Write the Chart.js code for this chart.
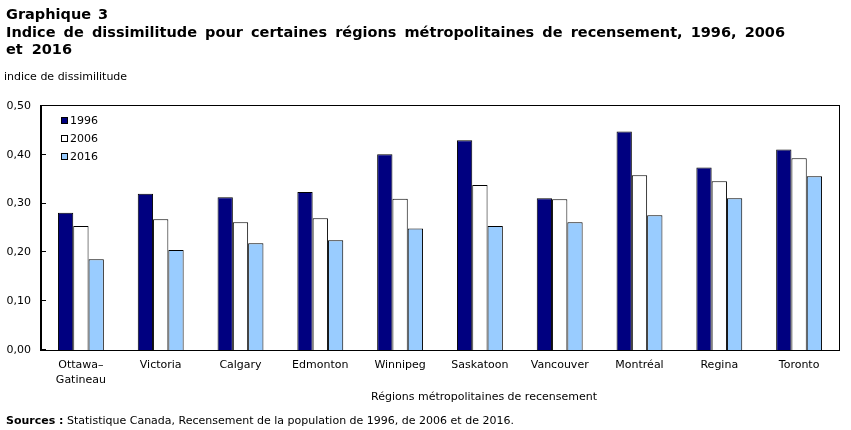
<!DOCTYPE html>
<html>
<head>
<meta charset="utf-8">
<script src="https://cdn.jsdelivr.net/npm/chart.js@4/dist/chart.umd.min.js"></script>
<style>
  html, body { margin: 0; padding: 0; background: #fff; }
  #wrap { width: 851px; height: 430px; position: relative; }
</style>
</head>
<body>
<div id="wrap"><canvas id="myChart" width="851" height="430"></canvas></div>
<script>
const regions = [['Ottawa–', 'Gatineau'], 'Victoria', 'Calgary', 'Edmonton', 'Winnipeg',
                 'Saskatoon', 'Vancouver', 'Montréal', 'Regina', 'Toronto'];
const years = ['1996', '2006', '2016'];
const val1996 = [0.281, 0.320, 0.313, 0.324, 0.401, 0.430, 0.311, 0.448, 0.374, 0.411];
const val2006 = [0.254, 0.268, 0.262, 0.270, 0.310, 0.338, 0.309, 0.358, 0.346, 0.393];
const val2016 = [0.186, 0.205, 0.219, 0.225, 0.249, 0.254, 0.262, 0.276, 0.311, 0.356];
const yTicks = [0, 0.1, 0.2, 0.3, 0.4, 0.5];

const FONT = '"DejaVu Sans", Verdana, sans-serif';
const colors = ['#000080', '#ffffff', '#99ccff'];

// spread words so a title line ends at a given x
function fitLine(c, text, x, y, right) {
    const hasWS = 'wordSpacing' in c;
    if (hasWS) {
        c.wordSpacing = '0px';
        const w = c.measureText(text).width;
        const spaces = text.split(' ').length - 1;
        c.wordSpacing = Math.max(0, (right - x - w) / spaces) + 'px';
    }
    c.fillText(text, x, y);
    if (hasWS) c.wordSpacing = '0px';
}

// titles, legend, frame and footer text
const decor = {
    id: 'decor',
    afterDraw(chart) {
        const c = chart.ctx;
        const a = chart.chartArea;
        const y = chart.scales.y;
        c.save();
        // frame
        c.strokeStyle = '#000';
        c.lineWidth = 1;
        c.strokeRect(Math.round(a.left) - 0.5, Math.round(a.top) - 0.5,
                     Math.round(a.right - a.left) + 1, Math.round(a.bottom - a.top) + 1);
        // inward tick marks
        c.beginPath();
        yTicks.forEach(t => {
            const py = Math.round(y.getPixelForValue(t)) - 0.5;
            c.moveTo(a.left, py);
            c.lineTo(a.left + 5, py);
        });
        c.stroke();

        c.fillStyle = '#000';
        c.textBaseline = 'alphabetic';
        c.textAlign = 'left';
        c.font = 'bold 14.5px ' + FONT;
        fitLine(c, 'Graphique 3', 6, 19, 108);
        fitLine(c, 'Indice de dissimilitude pour certaines régions métropolitaines de recensement, 1996, 2006', 6, 37, 785);
        fitLine(c, 'et 2016', 6, 54, 72);

        c.font = '11px ' + FONT;
        c.fillText('indice de dissimilitude', 4, 80);

        // legend
        chart.data.datasets.forEach((ds, i) => {
            const ly = 120 + i * 18;
            c.fillStyle = ds.backgroundColor;
            c.fillRect(61, ly - 3, 7, 7);
            c.strokeRect(61.5, ly - 2.5, 6, 6);
            c.fillStyle = '#000';
            c.textBaseline = 'middle';
            c.fillText(ds.label, 70, ly + 1);
        });

        c.textBaseline = 'alphabetic';
        c.textAlign = 'center';
        c.fillText('Régions métropolitaines de recensement', 484, 400);

        c.textAlign = 'left';
        c.font = 'bold 11px ' + FONT;
        const lab = 'Sources :';
        c.fillText(lab, 6, 424);
        const lw = c.measureText(lab).width;
        c.font = '11px ' + FONT;
        c.fillText(' Statistique Canada, Recensement de la population de 1996, de 2006 et de 2016.', 6 + lw, 424);
        c.restore();
    }
};

const ctx = document.getElementById('myChart').getContext('2d');
var myChart = new Chart(ctx, {
    type: 'bar',
    data: {
        labels: regions,
        datasets: [val1996, val2006, val2016].map((d, i) => ({
            label: years[i],
            data: d,
            backgroundColor: colors[i],
            borderColor: '#000',
            borderWidth: 1,
            borderSkipped: 'bottom'
        }))
    },
    options: {
        responsive: false,
        animation: false,
        layout: { padding: { top: 106, right: 12, left: 0, bottom: 0 } },
        datasets: { bar: { barPercentage: 1, categoryPercentage: 0.575 } },
        plugins: {
            legend: { display: false },
            title: { display: false },
            tooltip: { enabled: false }
        },
        scales: {
            x: {
                grid: { display: false, drawTicks: false },
                border: { display: true, color: '#000' },
                ticks: {
                    color: '#000', padding: 8, maxRotation: 0, autoSkip: false,
                    font: { family: FONT, size: 11, lineHeight: 1.35 }
                },
                afterFit: s => { s.height = 80; }
            },
            y: {
                min: 0, max: 0.5,
                grid: { display: false, drawTicks: false },
                border: { display: true, color: '#000' },
                ticks: {
                    stepSize: 0.1, color: '#000', padding: 10,
                    font: { family: FONT, size: 11 },
                    callback: v => v.toFixed(2).replace('.', ',')
                },
                afterFit: s => { s.width = 41; }
            }
        }
    },
    plugins: [decor]
});
</script>
</body>
</html>
